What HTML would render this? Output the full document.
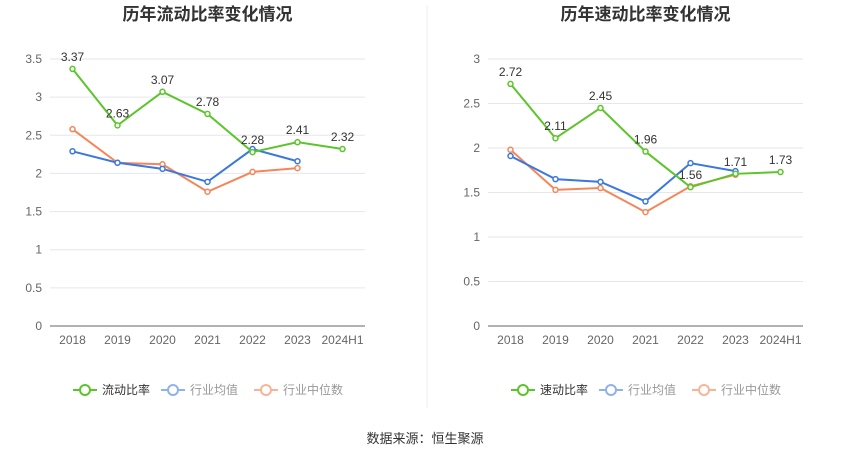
<!DOCTYPE html>
<html><head><meta charset="utf-8"><style>
body{margin:0;background:#fff;font-family:"Liberation Sans","Noto Sans CJK SC",sans-serif;}
svg text{font-family:"Liberation Sans","Noto Sans CJK SC",sans-serif;}
</style></head><body>
<svg id="c" width="850" height="459" xmlns="http://www.w3.org/2000/svg">
<line x1="427" y1="5" x2="427" y2="408" stroke="#eee"/>
<text x="425" y="443" font-size="13" fill="#333" text-anchor="middle">数据来源：恒生聚源</text>
</svg>
<script>
const categories=["2018","2019","2020","2021","2022","2023","2024H1"];
const currentRatio=[3.37,2.63,3.07,2.78,2.28,2.41,2.32];
const currentAvg=[2.29,2.14,2.06,1.89,2.32,2.16];
const currentMed=[2.58,2.14,2.12,1.76,2.02,2.07];
const quickRatio=[2.72,2.11,2.45,1.96,1.56,1.71,1.73];
const quickAvg=[1.91,1.65,1.62,1.40,1.83,1.74];
const quickMed=[1.98,1.53,1.55,1.28,1.57,1.70];
const leftTicks=["0","0.5","1","1.5","2","2.5","3","3.5"];
const rightTicks=["0","0.5","1","1.5","2","2.5","3"];
const svg=document.getElementById('c');
const NS="http://www.w3.org/2000/svg";
function mk(t,a,parent){const e=document.createElementNS(NS,t);for(const k in a)e.setAttribute(k,a[k]);(parent||svg).appendChild(e);return e;}
function chart(o){
  const g=mk('g',{});
  
  
  const x0=o.x0,x1=o.x1,yb=326,yt=59,max=o.max;
  const step=(x1-x0)/categories.length;
  const X=i=>x0+step*(i+0.5);
  const Y=v=>yb-(v/max)*(yb-yt);
  const t=mk('text',{x:(x0+x1)/2,y:20,'font-size':17,'font-weight':'bold',fill:'#333','text-anchor':'middle'},g);
  t.textContent=o.title;
  
  
  o.ticks.forEach(tk=>{const v=parseFloat(tk);const y=Y(v);
    if(v>0){const l=mk('line',{x1:x0,x2:x1,y1:y,y2:y,stroke:'#e6e6ee'},g);
      
      }
    const tx=mk('text',{x:x0-8,y:y+4,'font-size':12,fill:'#666','text-anchor':'end'},g);tx.textContent=tk;
    
    });
  const ax=mk('line',{x1:x0,x2:x1,y1:yb,y2:yb,stroke:'#666'},g);
  
  
  categories.forEach((c,i)=>{const tx=mk('text',{x:X(i),y:344,'font-size':12,fill:'#666','text-anchor':'middle'},g);tx.textContent=c;
    
    });
  const series=[[o.med,'#f5865a','industry-median-line'],[o.avg,'#3a78e0','industry-average-line'],[o.main,'#5cc52a','main-ratio-line']];
  series.forEach(([d,col,nm],si)=>{
    const p=mk('polyline',{points:d.map((v,i)=>X(i)+','+Y(v)).join(' '),fill:'none',stroke:col,'stroke-width':2},g);
    
    
    d.forEach((v,i)=>{const c=mk('circle',{cx:X(i),cy:Y(v),r:2.5,fill:'#fff',stroke:col,'stroke-width':1.5},g);
      
      
      if(si==2){const l=mk('text',{x:X(i),y:Y(v)-8,'font-size':12,fill:'#333','text-anchor':'middle'},g);l.textContent=v.toFixed(2);
        
        }});
  });
  const lx=o.legX;const items=[[o.mainName,'#5cc52a','#333',0],['行业均值','#8fb2ec','#999',88],['行业中位数','#f8b49a','#999',181]];
  items.forEach(([n,col,tc,off])=>{const lg=mk('g',{},g);
    const cx=lx+off;
    
    
    mk('line',{x1:cx,x2:cx+24,y1:390,y2:390,stroke:col,'stroke-width':2},lg);
    mk('circle',{cx:cx+12,cy:390,r:5,fill:'#fff',stroke:col,'stroke-width':2},lg);
    const tx=mk('text',{x:cx+29,y:394,'font-size':12,fill:tc},lg);tx.textContent=n;});
}
chart({name:'current-ratio-chart',title:'历年流动比率变化情况',x0:50,x1:365,max:3.5,ticks:leftTicks,main:currentRatio,avg:currentAvg,med:currentMed,mainName:'流动比率',legX:73});
chart({name:'quick-ratio-chart',title:'历年速动比率变化情况',x0:488,x1:803,max:3,ticks:rightTicks,main:quickRatio,avg:quickAvg,med:quickMed,mainName:'速动比率',legX:511});
</script>
</body></html>
